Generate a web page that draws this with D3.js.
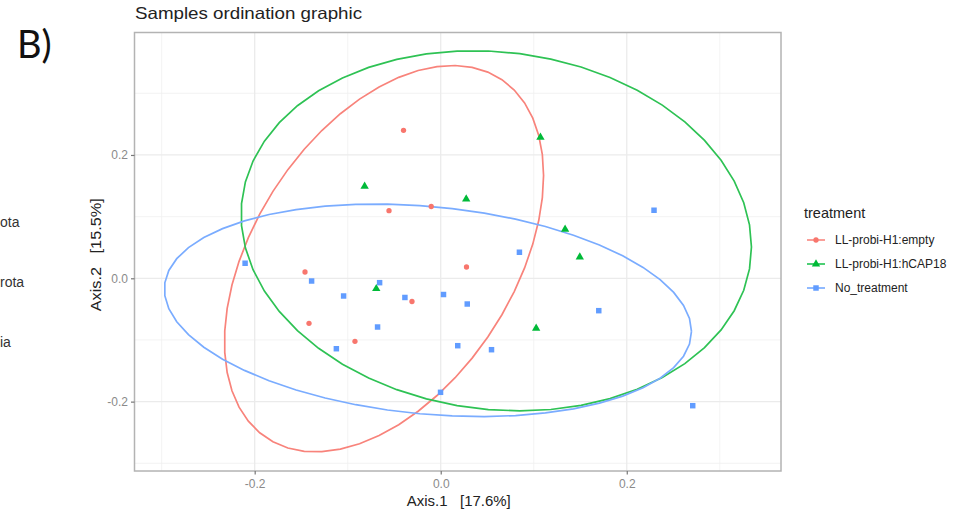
<!DOCTYPE html>
<html>
<head>
<meta charset="utf-8">
<script src="https://cdnjs.cloudflare.com/ajax/libs/d3/7.8.5/d3.min.js"></script>
<style>
  html, body { margin: 0; padding: 0; background: #ffffff; }
  svg { display: block; }
  text { white-space: pre; }
</style>
</head>
<body>
<svg id="chart" width="976" height="514"></svg>
<script>
// ---------------- data ----------------
const groups = ["LL-probi-H1:empty", "LL-probi-H1:hCAP18", "No_treatment"];
const emptyX = [-0.0400, -0.0556, -0.0102, 0.0277, -0.1459, -0.0309, -0.1416, -0.0922];
const emptyY = [0.2400, 0.1096, 0.1164, 0.0183, 0.0102, -0.0376, -0.0730, -0.1022];
const hcapX = [-0.0818, 0.0274, 0.1072, 0.1337, 0.1495, -0.0693, 0.1026];
const hcapY = [0.1492, 0.1286, 0.2286, 0.0795, 0.0345, -0.0169, -0.0811];
const noX = [-0.2103, -0.1388, -0.0657, -0.1044, -0.0385, 0.0030, 0.0285, -0.0679,
             -0.1122, 0.0183, -0.0002, 0.2293, 0.0846, 0.1699, 0.0546, 0.2709];
const noY = [0.0243, -0.0044, -0.0071, -0.0287, -0.0311, -0.0263, -0.0417, -0.0790,
             -0.1142, -0.1093, -0.1849, 0.1103, 0.0422, -0.0525, -0.1158, -0.2066];
const xTicks = [-0.2, 0.0, 0.2];
const yTicks = [-0.2, 0.0, 0.2];
const xMinor = [-0.3, -0.1, 0.1, 0.3];
const yMinor = [-0.3, -0.1, 0.1, 0.3];
const xDomain = [-0.3292, 0.3658];
const yDomain = [-0.3125, 0.3986];
const titleText = "Samples ordination graphic";
const xTitle = "Axis.1   [17.6%]";
const yTitle = "Axis.2   [15.5%]";
const legendTitle = "treatment";
const sideTexts = ["ota", "rota", "ia"];
const panelLabel = "B)";

const colors = ["#F8766D", "#00BA38", "#619CFF"];

// ---------------- layout ----------------
const svg = d3.select("#chart");
const P = { left: 134.5, right: 781, top: 32.5, bottom: 471 };
const x = d3.scaleLinear().domain(xDomain).range([P.left, P.right]);
const y = d3.scaleLinear().domain(yDomain).range([P.bottom, P.top]);

svg.append("rect").attr("width", 976).attr("height", 514).attr("fill", "#fff");

// grid
const g = svg.append("g");
g.selectAll(".xmin").data(xMinor).join("line")
  .attr("x1", d => x(d)).attr("x2", d => x(d)).attr("y1", P.top).attr("y2", P.bottom)
  .attr("stroke", "#f0f0f0").attr("stroke-width", 0.8);
g.selectAll(".ymin").data(yMinor).join("line")
  .attr("y1", d => y(d)).attr("y2", d => y(d)).attr("x1", P.left).attr("x2", P.right)
  .attr("stroke", "#f0f0f0").attr("stroke-width", 0.8);
g.selectAll(".xmaj").data(xTicks).join("line")
  .attr("x1", d => x(d)).attr("x2", d => x(d)).attr("y1", P.top).attr("y2", P.bottom)
  .attr("stroke", "#ebebeb").attr("stroke-width", 1.3);
g.selectAll(".ymaj").data(yTicks).join("line")
  .attr("y1", d => y(d)).attr("y2", d => y(d)).attr("x1", P.left).attr("x2", P.right)
  .attr("stroke", "#ebebeb").attr("stroke-width", 1.3);

// ---------------- stat_ellipse (type "t", level 0.95) ----------------
function covTrob(xs, ys) {
  const n = xs.length, p = 2, nu = 5, maxit = 25, tol = 0.01;
  let w = new Array(n).fill(1);
  let loc = [d3.mean(xs), d3.mean(ys)];
  let X = null;
  for (let iter = 0; iter < maxit; iter++) {
    const w0 = w.slice();
    X = xs.map((v, i) => [v - loc[0], ys[i] - loc[1]]);
    const sw = d3.sum(w);
    let s11 = 0, s12 = 0, s22 = 0;
    X.forEach((d, i) => {
      const k = w[i] / sw;
      s11 += k * d[0] * d[0]; s12 += k * d[0] * d[1]; s22 += k * d[1] * d[1];
    });
    const det = s11 * s22 - s12 * s12;
    const Q = X.map(d => (s22 * d[0] * d[0] - 2 * s12 * d[0] * d[1] + s11 * d[1] * d[1]) / det);
    w = Q.map(q => (nu + p) / (nu + q));
    const sw2 = d3.sum(w);
    loc = [d3.sum(xs, (v, i) => w[i] * v) / sw2, d3.sum(ys, (v, i) => w[i] * v) / sw2];
    if (w.every((v, i) => Math.abs(v - w0[i]) < tol)) break;
  }
  let c11 = 0, c12 = 0, c22 = 0;
  X.forEach((d, i) => {
    c11 += w[i] * d[0] * d[0]; c12 += w[i] * d[0] * d[1]; c22 += w[i] * d[1] * d[1];
  });
  return { center: loc, cov: [c11 / n, c12 / n, c22 / n] };
}
function ellipsePts(xs, ys) {
  const { center, cov } = covTrob(xs, ys);
  const dfd = xs.length - 1;
  const r = Math.sqrt(dfd * (Math.pow(0.05, -2 / dfd) - 1));
  const a = Math.sqrt(cov[0]);
  const b = cov[1] / a;
  const c = Math.sqrt(cov[2] - b * b);
  const pts = [];
  const seg = 51;
  for (let i = 0; i <= seg; i++) {
    const t = i * 2 * Math.PI / seg;
    pts.push([center[0] + r * a * Math.cos(t), center[1] + r * (b * Math.cos(t) + c * Math.sin(t))]);
  }
  return pts;
}

const series = [
  { xs: emptyX, ys: emptyY, shape: "circle" },
  { xs: hcapX, ys: hcapY, shape: "triangle" },
  { xs: noX, ys: noY, shape: "square" }
];

svg.append("clipPath").attr("id", "clip").append("rect")
  .attr("x", P.left).attr("y", P.top).attr("width", P.right - P.left).attr("height", P.bottom - P.top);
const plot = svg.append("g").attr("clip-path", "url(#clip)");

const line = d3.line().x(d => x(d[0])).y(d => y(d[1])).curve(d3.curveLinear);
const ellipseColors = ["#F8837B", "#2EC254", "#7AACFF"];
series.forEach((s, i) => {
  plot.append("path").attr("d", line(ellipsePts(s.xs, s.ys)))
    .attr("fill", "none").attr("stroke", ellipseColors[i]).attr("stroke-width", 1.7);
});

const sym = {
  circle: d3.symbol().type(d3.symbolCircle).size(22),
  triangle: d3.symbol().type(d3.symbolTriangle).size(30),
  square: d3.symbol().type(d3.symbolSquare).size(30)
};
series.forEach((s, i) => {
  plot.selectAll(null).data(s.xs.map((v, k) => [v, s.ys[k]])).join("path")
    .attr("transform", d => `translate(${x(d[0])},${y(d[1])})`)
    .attr("d", sym[s.shape]())
    .attr("fill", colors[i]);
});

// panel border
svg.append("rect").attr("x", P.left).attr("y", P.top)
  .attr("width", P.right - P.left).attr("height", P.bottom - P.top)
  .attr("fill", "none").attr("stroke", "#b3b3b3").attr("stroke-width", 1.5);

// axes
const xAxis = d3.axisBottom(x).tickValues(xTicks).tickFormat(d3.format(".1f")).tickSize(3.5).tickPadding(5);
const yAxis = d3.axisLeft(y).tickValues(yTicks).tickFormat(d3.format(".1f")).tickSize(3.5).tickPadding(3);
const gx = svg.append("g").attr("transform", `translate(0,${P.bottom})`).call(xAxis);
const gy = svg.append("g").attr("transform", `translate(${P.left},0)`).call(yAxis);
[gx, gy].forEach(ax => {
  ax.select(".domain").remove();
  ax.selectAll(".tick line").attr("stroke", "#777").attr("stroke-width", 1.2);
  ax.selectAll(".tick text").attr("fill", "#8a8a8a")
    .style("font-family", "'Liberation Sans', Arial, sans-serif").style("font-size", "12px");
});
gx.selectAll(".tick text").text(d => d3.format(".1f")(d).replace("−", "-"));
gy.selectAll(".tick text").text(d => d3.format(".1f")(d).replace("−", "-"));

const font = "'Liberation Sans', Arial, sans-serif";
svg.append("text").attr("x", 135).attr("y", 19).text(titleText)
  .style("font-family", font).style("font-size", "16.5px").attr("fill", "#222")
  .attr("textLength", 227).attr("lengthAdjust", "spacingAndGlyphs");
svg.append("text").attr("x", (P.left + P.right) / 2 + 1).attr("y", 506).attr("text-anchor", "middle")
  .attr("xml:space", "preserve")
  .text(xTitle).style("font-family", font).style("font-size", "14px").attr("fill", "#222")
  .attr("textLength", 104).attr("lengthAdjust", "spacingAndGlyphs");
svg.append("text").attr("transform", `translate(101,${(P.top + P.bottom) / 2 + 3}) rotate(-90)`)
  .attr("text-anchor", "middle").attr("xml:space", "preserve").text(yTitle)
  .style("font-family", font).style("font-size", "14.5px").attr("fill", "#222")
  .attr("textLength", 113).attr("lengthAdjust", "spacingAndGlyphs");

// legend
const leg = svg.append("g");
leg.append("text").attr("x", 804).attr("y", 218).text(legendTitle)
  .style("font-family", font).style("font-size", "14.5px").attr("fill", "#222");
groups.forEach((name, i) => {
  const cy = 240 + i * 24;
  leg.append("line").attr("x1", 807).attr("x2", 825).attr("y1", cy).attr("y2", cy)
    .attr("stroke", colors[i]).attr("stroke-width", 1.4);
  leg.append("path").attr("transform", `translate(816,${cy})`)
    .attr("d", sym[series[i].shape]()).attr("fill", colors[i]);
  leg.append("text").attr("x", 835).attr("y", cy + 4).text(name)
    .style("font-family", font).style("font-size", "12px").attr("fill", "#222");
});

// side texts from neighbouring figure
svg.append("text").attr("x", 17).attr("y", 58).text(panelLabel)
  .style("font-family", "Lato, 'Open Sans', sans-serif").style("font-size", "38px").attr("fill", "#111");
sideTexts.forEach((t, i) => {
  svg.append("text").attr("x", 0).attr("y", [227, 287, 347][i]).text(t)
    .style("font-family", font).style("font-size", "14px").attr("fill", "#333");
});
</script>
</body>
</html>
